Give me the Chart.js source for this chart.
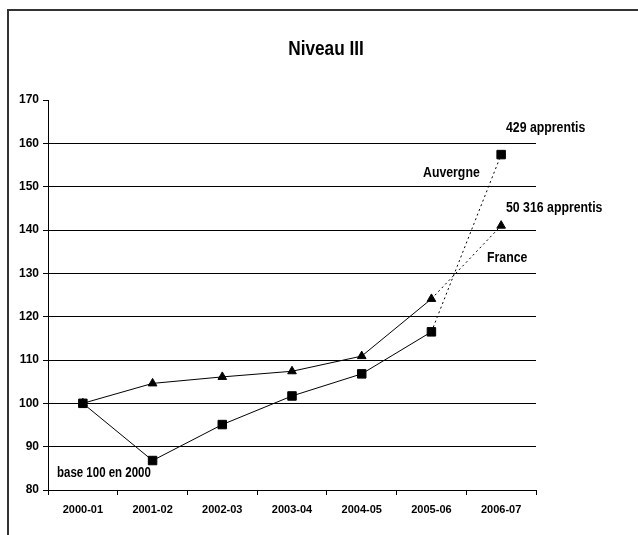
<html>
<head>
<title>Niveau III</title>
<script src="https://cdn.jsdelivr.net/npm/chart.js"></script>
<style>
  body { margin: 0; background: #fff; }
  #frame { position: absolute; left: 7px; top: 9px; width: 700px; height: 600px;
           border-left: 2px solid #333; border-top: 2px solid #333; }
  #wrap { position: absolute; left: 0; top: 0; width: 638px; height: 535px; }
</style>
</head>
<body>
<div id="frame"></div>
<div id="wrap"><canvas id="myChart" width="638" height="535"></canvas></div>
<script>
const years = ['2000-01', '2001-02', '2002-03', '2003-04', '2004-05', '2005-06', '2006-07'];
const auvergne = [100, 86.8, 95.1, 101.7, 106.8, 116.5, 157.4];
const france = [100, 104.6, 106.1, 107.4, 110.9, 124.1, 141.0];
const yTicks = [80, 90, 100, 110, 120, 130, 140, 150, 160, 170];

const FONT = "'Liberation Sans', Arial, sans-serif";

// dotted line for the last (estimated) segment
const lastDotted = {
  borderDash: ctx => ctx.p1DataIndex === years.length - 1 ? [2, 3] : undefined
};

// narrow bold text (no Arial Narrow here, so squeeze it)
function narrowText(c, txt, x, y, size, align) {
  const sx = 0.82;
  c.save();
  c.font = 'bold ' + size + 'px ' + FONT;
  c.textBaseline = 'middle';
  c.textAlign = align || 'left';
  c.translate(x, y);
  c.scale(sx, 1);
  c.fillStyle = '#000';
  c.fillText(txt, 0, 0);
  c.restore();
}

const notes = {
  id: 'notes',
  afterDraw(chart) {
    const c = chart.ctx;
    narrowText(c, 'Niveau III', 326, 49, 21, 'center');
    narrowText(c, '429 apprentis', 506, 128, 15);
    narrowText(c, 'Auvergne', 423, 173, 15);
    narrowText(c, '50 316 apprentis', 506, 208, 15);
    narrowText(c, 'France', 487, 258, 15);
    narrowText(c, 'base 100 en 2000', 57, 473, 14);
  }
};

var ctx = document.getElementById('myChart').getContext('2d');
var myChart = new Chart(ctx, {
  type: 'line',
  data: {
    labels: years,
    datasets: [{
      label: 'Auvergne',
      data: auvergne,
      borderColor: '#000',
      backgroundColor: '#000',
      borderWidth: 1,
      pointStyle: 'rect',
      pointRadius: 6,
      pointHoverRadius: 6,
      tension: 0,
      segment: lastDotted
    }, {
      label: 'France',
      data: france,
      borderColor: '#000',
      backgroundColor: '#000',
      borderWidth: 1,
      pointStyle: 'triangle',
      pointRadius: 5,
      pointHoverRadius: 5,
      tension: 0,
      segment: lastDotted
    }]
  },
  options: {
    responsive: false,
    animation: false,
    layout: { padding: { top: 100, right: 102, left: 0, bottom: 0 } },
    plugins: { legend: { display: false }, title: { display: false }, tooltip: { enabled: false } },
    scales: {
      x: {
        offset: true,
        afterFit: s => { s.height = 45; },
        grid: { offset: true, drawOnChartArea: false, drawTicks: true, tickLength: 5, color: '#000' },
        border: { display: true, color: '#000', width: 1 },
        ticks: { color: '#000', font: { family: FONT, size: 11, weight: 'bold' }, padding: 8, maxRotation: 0 }
      },
      y: {
        min: 80,
        max: 170,
        afterFit: s => { s.width = 48; },
        afterBuildTicks: s => { s.ticks = yTicks.map(v => ({ value: v })); },
        grid: {
          color: c => (c.tick && (c.tick.value === 170 || c.tick.value === 80)) ? 'rgba(0,0,0,0)' : '#000',
          tickColor: '#000',
          tickLength: 5,
          drawTicks: true
        },
        border: { display: true, color: '#000', width: 1 },
        ticks: { color: '#000', font: { family: FONT, size: 12, weight: 'bold' }, padding: 4 }
      }
    }
  },
  plugins: [notes]
});
</script>
</body>
</html>
